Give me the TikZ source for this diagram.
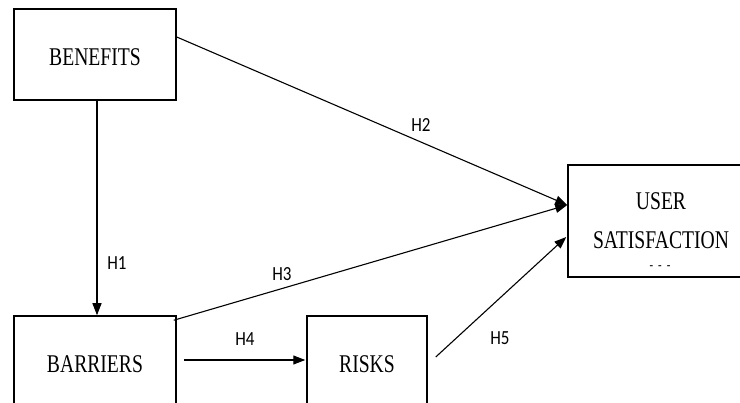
\documentclass[tikz,border=0pt]{standalone}
\usepackage{fontspec}
\setmainfont{Liberation Serif}[FakeStretch=0.77]
\newfontfamily\hfont{Carlito}[FakeStretch=0.85]
\usetikzlibrary{arrows.meta}
\tikzset{
  box/.style={draw, line width=1.5pt, rectangle, inner sep=0pt, font=\fontsize{25.5}{39}\selectfont, align=center},
  hyp/.style={font=\hfont\fontsize{20}{24}\selectfont, inner sep=0pt},
  conn/.style={line width=1.1pt, -{Triangle[length=12pt,width=9pt]}},
  plain/.style={line width=1.1pt}
}
\begin{document}
\begin{tikzpicture}[x=1pt,y=-1pt]
\useasboundingbox (0,0) rectangle (740,403);
\fill[white] (0,0) rectangle (740,403);
\clip (0,0) rectangle (740,403);
\node[box, minimum width=162pt, minimum height=91pt, text height=23pt] (ben) at (95,54.5) {BENEFITS};
\node[box, minimum width=162pt, minimum height=96pt] (ba) at (95,364) {BARRIERS};
\node[box, minimum width=120pt, minimum height=96pt] (ri) at (367,364) {RISKS};
\node[box, minimum width=186pt, minimum height=112pt] (us) at (661,221) {USER\\SATISFACTION};
\node[font=\fontsize{14}{16}\selectfont, inner sep=0pt] (dash) at (660,268) {-\hspace{5pt}-\hspace{5pt}-};
\draw[conn] ([xshift=2pt]ben.south) -- ([xshift=2pt]ba.north);
\draw[conn] ([yshift=17.5pt]ben.east) -- ([yshift=16pt]us.west);
\draw[conn] ([xshift=-3pt,yshift=-5pt]ba.north east) -- ([yshift=16pt]us.west);
\draw[conn] ([xshift=7pt,yshift=4pt]ba.east) -- ([xshift=-1pt,yshift=4pt]ri.west);
\draw[conn] ([xshift=8pt,yshift=7pt]ri.east) -- ([xshift=-1pt,yshift=-16pt]us.west);
\node[hyp] (h1) at (117,263) {H1};
\node[hyp] (h2) at (421,125) {H2};
\node[hyp] (h3) at (282,274) {H3};
\node[hyp] (h4) at (245,339) {H4};
\node[hyp] (h5) at (500,338) {H5};
\end{tikzpicture}
\end{document}
